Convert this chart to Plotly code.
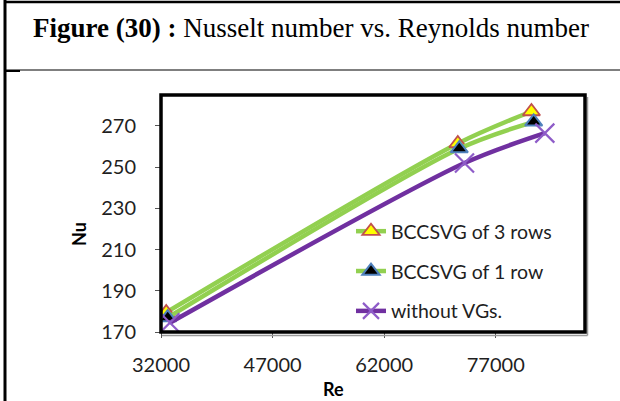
import plotly.graph_objects as go

# ---- data ----
re_3rows = [32700, 71900, 81800]
nu_3rows = [179.5, 261.5, 277.0]
re_1row = [32900, 72100, 82100]
nu_1row = [177.0, 259.0, 272.0]
re_novg = [33200, 72800, 83600]
nu_novg = [174.5, 252.0, 266.5]

names = ["BCCSVG of 3 rows", "BCCSVG of 1 row", "without VGs."]
x_ticks = [32000, 47000, 62000, 77000]
y_ticks = [170, 190, 210, 230, 250, 270]

# ---- geometry helpers (plot area in pixels) ----
L, R, T, B = 161, 585, 95, 332
W, H = R - L, B - T


def px(x):
    return (x - L) / W


def py(y):
    return (B - y) / H


FONT = "Lato"
GREEN = "#92D050"
PURPLE = "#7030A0"

fig = go.Figure()
fig.add_trace(go.Scatter(
    x=re_3rows, y=nu_3rows, name=names[0], legendgroup="a",
    mode="lines+markers",
    line=dict(color=GREEN, width=4.5, shape="spline", smoothing=0.8),
    marker=dict(symbol="triangle-up", size=15, color="#FFFF00",
                line=dict(color="#C0504D", width=1.8)),
))
fig.add_trace(go.Scatter(
    x=re_1row, y=nu_1row, name=names[1], legendgroup="b",
    mode="lines+markers",
    line=dict(color=GREEN, width=4.5, shape="spline", smoothing=0.8),
    marker=dict(symbol="triangle-up", size=15, color="#000000",
                line=dict(color="#4F81BD", width=2)),
))
fig.add_trace(go.Scatter(
    x=re_novg, y=nu_novg, name=names[2], legendgroup="c",
    mode="lines+markers",
    line=dict(color=PURPLE, width=4.5, shape="spline", smoothing=0.8),
    marker=dict(symbol="x-thin", size=19, color="#8E5CC8",
                line=dict(color="#8E5CC8", width=2.2)),
))

shapes = [
    # page / table lines
    dict(type="line", xref="paper", yref="paper", x0=px(5), x1=px(5),
         y0=py(0), y1=py(401), line=dict(color="black", width=3)),
    dict(type="line", xref="paper", yref="paper", x0=px(5), x1=px(620),
         y0=py(2), y1=py(2), line=dict(color="black", width=2.5)),
    dict(type="line", xref="paper", yref="paper", x0=px(5), x1=px(620),
         y0=py(70), y1=py(70), line=dict(color="black", width=1.2)),
    dict(type="line", xref="paper", yref="paper", x0=px(5), x1=px(20),
         y0=py(71), y1=py(71), line=dict(color="black", width=2)),
    # chart frame shadow + frame
    dict(type="line", xref="paper", yref="paper", x0=px(587.5), x1=px(587.5),
         y0=py(97), y1=py(335.5), line=dict(color="#9a9a9a", width=1.5)),
    dict(type="line", xref="paper", yref="paper", x0=px(162), x1=px(587.5),
         y0=py(335.5), y1=py(335.5), line=dict(color="#9a9a9a", width=1.5)),
    dict(type="rect", xref="paper", yref="paper", x0=0, x1=1, y0=0, y1=1,
         line=dict(color="black", width=3.5)),
]

annotations = [
    dict(text="<b>Figure (30) :</b> Nusselt number vs. Reynolds number",
         xref="paper", yref="paper", x=px(311), y=py(28),
         xanchor="center", yanchor="middle", showarrow=False,
         font=dict(family="Liberation Serif", size=27, color="black")),
    dict(text="<b>Nu</b>", xref="paper", yref="paper", x=px(79), y=py(234),
         xanchor="center", yanchor="middle", showarrow=False, textangle=-90,
         font=dict(family=FONT, size=18, color="black")),
    dict(text="<b>Re</b>", xref="paper", yref="paper", x=px(333), y=py(389),
         xanchor="center", yanchor="middle", showarrow=False,
         font=dict(family=FONT, size=18, color="black")),
]

fig.update_layout(
    width=620, height=401,
    margin=dict(l=L, r=620 - R, t=T, b=401 - B, pad=0),
    paper_bgcolor="white", plot_bgcolor="white",
    font=dict(family=FONT, size=20, color="#1f1f1f"),
    showlegend=True,
    legend=dict(x=px(351), y=py(212), xanchor="left", yanchor="top",
                traceorder="grouped", tracegroupgap=11.5,
                bgcolor="rgba(0,0,0,0)", font=dict(family=FONT, size=19.5, color="#1f1f1f")),
    xaxis=dict(range=[32000, 89000], tickvals=x_ticks,
               ticktext=[str(v) for v in x_ticks],
               showgrid=False, zeroline=False, showline=True,
               linecolor="black", linewidth=1,
               ticks="outside", ticklen=5, tickcolor="#555555",
               ticklabelstandoff=10),
    yaxis=dict(range=[170, 285], tickvals=y_ticks,
               ticktext=[str(v) for v in y_ticks],
               showgrid=False, zeroline=False, showline=True,
               linecolor="black", linewidth=1,
               ticks="outside", ticklen=5, tickcolor="#555555",
               ticklabelstandoff=15),
    shapes=shapes,
    annotations=annotations,
)

fig.write_html("out.html")
